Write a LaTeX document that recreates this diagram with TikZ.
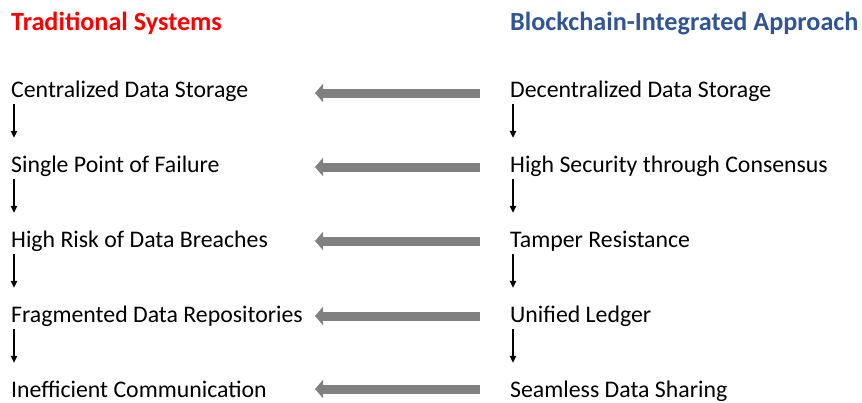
\documentclass[tikz,border=0pt]{standalone}
\usepackage{fontspec}
\setmainfont{Carlito}
\usetikzlibrary{arrows.meta}
\definecolor{tradred}{HTML}{FF0000}
\definecolor{chainblue}{HTML}{2F5597}
\definecolor{mapgray}{HTML}{808080}
\tikzset{
  head label/.style={font=\bfseries\fontsize{26.2}{31}\selectfont, anchor=base west,
    inner sep=0pt},
  item label/.style={font=\fontsize{23.8}{28}\selectfont, anchor=base west,
    inner sep=0pt, text height=16pt, text depth=5pt},
  flow arrow/.style={draw=black, line width=1.1pt,
    -{Triangle[length=7pt, width=6.5pt]}, shorten <=2pt, shorten >=18pt},
  map arrow/.style={draw=mapgray, line width=9pt,
    -{Triangle[length=8pt, width=18pt]}},
}

\begin{document}
\begin{tikzpicture}[x=1pt, y=-1pt]
  \useasboundingbox (0,0) rectangle (862,402);

  \node[head label, text=tradred] (th) at (11,30) {Traditional Systems};
  \node[head label, text=chainblue] (bh) at (510,30) {Blockchain-Integrated Approach};

  % left column
  \node[item label] (l1) at (11,97) {Centralized Data Storage};
  \node[item label] (l2) at (11,172) {Single Point of Failure};
  \node[item label] (l3) at (11,247) {High Risk of Data Breaches};
  \node[item label] (l4) at (11,322) {Fragmented Data Repositories};
  \node[item label] (l5) at (11,397) {Inefficient Communication};

  % right column
  \node[item label] (r1) at (510,97) {Decentralized Data Storage};
  \node[item label] (r2) at (510,172) {High Security through Consensus};
  \node[item label] (r3) at (510,247) {Tamper Resistance};
  \node[item label] (r4) at (510,322) {Unified Ledger};
  \node[item label] (r5) at (510,397) {Seamless Data Sharing};

  \foreach \a/\b in {1/2,2/3,3/4,4/5}{
    \draw[flow arrow] ([xshift=3pt]l\a.south west) -- ([xshift=3pt]l\b.north west);
    \draw[flow arrow] ([xshift=3pt]r\a.south west) -- ([xshift=3pt]r\b.north west);
  }

  \coordinate (tail) at (480,0);
  \coordinate (tip) at (315,0);
  \foreach \i/\dy in {1/4,2/5,3/6,4/6,5/8}{
    \draw[map arrow] ([yshift=\dy pt]r\i.base west -| tail)
      -- ([yshift=\dy pt]r\i.base west -| tip);
  }
\end{tikzpicture}
\end{document}
